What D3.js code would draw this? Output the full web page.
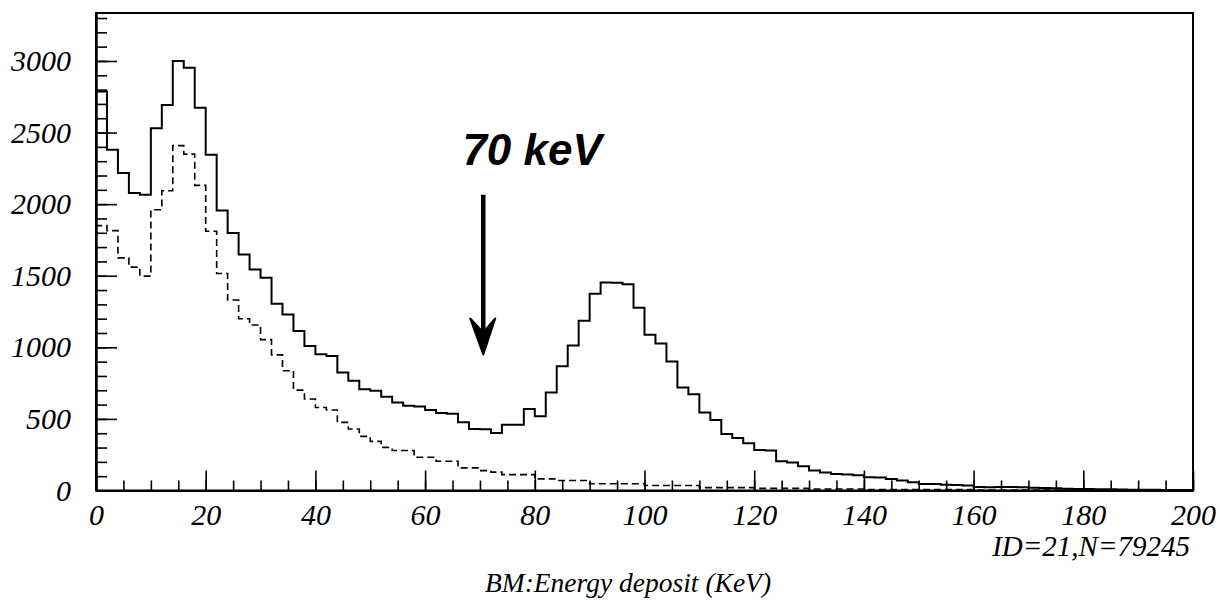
<!DOCTYPE html>
<html>
<head>
<meta charset="utf-8">
<script src="https://cdn.jsdelivr.net/npm/d3@7"></script>
<style>
  html, body { margin: 0; padding: 0; background: #fff; }
  svg { display: block; }
  .tick text { font-family: "Liberation Serif", "DejaVu Serif", serif; font-style: italic; }
</style>
</head>
<body>
<svg id="chart" width="1220" height="601"></svg>
<script>
// ---- Data (bins of 2 keV, 0..200 keV) ----
const binEdges = d3.range(0, 202, 2);           // 101 edges
const totalCounts = [
  2786, 2380, 2217, 2077, 2066, 2530, 2693, 2999, 2953, 2674,
  2345, 1955, 1799, 1648, 1544, 1486, 1304, 1230, 1114, 1010,
  952, 940, 824, 766, 708, 696, 655, 615, 592, 587,
  562, 541, 536, 476, 430, 428, 402, 460, 460, 569,
  518, 685, 868, 1012, 1186, 1375, 1453, 1451, 1440, 1277,
  1088, 1026, 901, 720, 673, 545, 493, 395, 367, 330,
  283, 279, 204, 196, 170, 140, 125, 116, 112, 106,
  93, 90, 81, 70, 58, 46, 45, 40, 38, 35,
  25, 23, 25, 24, 22, 20, 18, 16, 12, 11,
  10, 9, 8, 7, 6, 5, 5, 4, 3, 3
];
const dashedCounts = [
  1850, 1815, 1625, 1560, 1497, 1961, 2094, 2409, 2349, 2131,
  1811, 1516, 1330, 1200, 1156, 1054, 947, 836, 701, 639,
  580, 562, 476, 430, 378, 343, 301, 279, 279, 232,
  232, 204, 204, 158, 158, 139, 128, 111, 111, 111,
  81, 81, 70, 70, 70, 47, 47, 47, 47, 47,
  35, 35, 35, 35, 35, 20, 20, 20, 20, 20,
  15, 15, 15, 15, 15, 10, 10, 10, 10, 10,
  6, 6, 6, 6, 6, 6, 6, 6, 6, 6,
  3, 3, 3, 3, 3, 3, 3, 3, 3, 3,
  3, 3, 3, 3, 3, 3, 3, 3, 3, 3
];
const xMajorTicks = d3.range(0, 201, 20);
const xMinorTicks = d3.range(0, 201, 5);
const yMajorTicks = d3.range(0, 3001, 500);
const yMinorTicks = d3.range(0, 3301, 100);
const xDomain = [0, 200];
const yDomain = [0, 3335];
const idLabel = "ID=21,N=79245";
const xTitle = "BM:Energy deposit (KeV)";
const noteText = "70 keV";
const notePos = [66.8, 2275];      // [keV, counts] baseline-left of annotation
const arrowFrom = [70.6, 2065];
const arrowTo = [70.6, 950];

// ---- Layout ----
const svg = d3.select("#chart");
const L = 96, R = 1193, T = 13, B = 490.5;
const x = d3.scaleLinear().domain(xDomain).range([L, R]);
const y = d3.scaleLinear().domain(yDomain).range([B, T]);
const fmt = d3.format("d");

svg.append("rect").attr("width", 1220).attr("height", 601).attr("fill", "#fff");

// histogram step paths
function stepPoints(counts) {
  const pts = [[binEdges[0], 0]];
  counts.forEach((c, i) => { pts.push([binEdges[i], c]); pts.push([binEdges[i + 1], c]); });
  pts.push([binEdges[binEdges.length - 1], 0]);
  return pts;
}
const line = d3.line().x(d => x(d[0])).y(d => y(d[1]));

svg.append("path")
  .attr("d", line(stepPoints(dashedCounts)))
  .attr("fill", "none").attr("stroke", "#000")
  .attr("stroke-width", 1.6).attr("stroke-dasharray", "7,4");

svg.append("path")
  .attr("d", line(stepPoints(totalCounts)))
  .attr("fill", "none").attr("stroke", "#000")
  .attr("stroke-width", 2);

// axes
const gy = svg.append("g").attr("transform", `translate(${L},0)`);
gy.append("g").call(d3.axisLeft(y).tickValues(yMinorTicks).tickSize(-11).tickSizeOuter(0).tickFormat(""));
gy.append("g").call(d3.axisLeft(y).tickValues(yMajorTicks).tickSize(-21).tickSizeOuter(0).tickPadding(25).tickFormat(fmt));
const gx = svg.append("g").attr("transform", `translate(0,${B})`);
gx.append("g").call(d3.axisBottom(x).tickValues(xMinorTicks).tickSize(-10).tickSizeOuter(0).tickFormat(""));
gx.append("g").call(d3.axisBottom(x).tickValues(xMajorTicks).tickSize(-20).tickSizeOuter(0).tickPadding(13).tickFormat(fmt));

svg.selectAll(".tick line").attr("stroke", "#000").attr("stroke-width", 1.6);
svg.selectAll(".domain").attr("stroke", "#000").attr("stroke-width", 2);
svg.selectAll(".tick text").attr("fill", "#000").style("font-size", "30px");

// frame
svg.append("rect").attr("x", L).attr("y", T).attr("width", R - L).attr("height", B - T)
  .attr("fill", "none").attr("stroke", "#000").attr("stroke-width", 2);

// texts
svg.append("text").attr("x", 1190).attr("y", 556).attr("text-anchor", "end")
  .style("font-family", '"Liberation Serif", serif').style("font-style", "italic")
  .style("font-size", "29px").text(idLabel);
svg.append("text").attr("x", 628).attr("y", 592).attr("text-anchor", "middle")
  .style("font-family", '"Liberation Serif", serif').style("font-style", "italic")
  .style("font-size", "27.5px").text(xTitle);

// annotation
svg.append("text").attr("x", x(notePos[0])).attr("y", y(notePos[1]))
  .style("font-family", '"Liberation Sans", sans-serif').style("font-style", "italic")
  .style("font-weight", "bold").style("font-size", "44px").text(noteText);
const ax = x(arrowFrom[0]), ay1 = y(arrowFrom[1]), ay2 = y(arrowTo[1]);
svg.append("line").attr("x1", ax).attr("x2", ax).attr("y1", ay1).attr("y2", ay2 - 6)
  .attr("stroke", "#000").attr("stroke-width", 4.5);
svg.append("path")
  .attr("d", `M${ax - 13},${ay2 - 36} L${ax},${ay2} L${ax + 12},${ay2 - 36} L${ax},${ay2 - 22} Z`)
  .attr("fill", "#000").attr("stroke", "#000").attr("stroke-width", 2).attr("stroke-linejoin", "round");
</script>
</body>
</html>
